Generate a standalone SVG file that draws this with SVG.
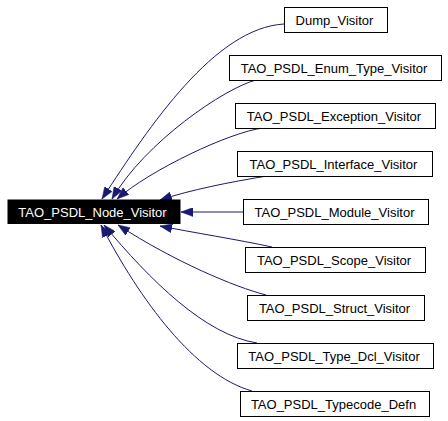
<svg xmlns="http://www.w3.org/2000/svg" width="448" height="421" viewBox="0 0 448 421">
<style>
  .box { fill: #ffffff; stroke: #000000; stroke-width: 1; }
  .root { fill: #000000; stroke: #000000; stroke-width: 1; }
  .lbl { font-family: "Liberation Sans", Arial, Helvetica, sans-serif; font-size: 13px; fill: #000000; text-anchor: middle; }
  .rootlbl { font-family: "Liberation Sans", Arial, Helvetica, sans-serif; font-size: 13px; fill: #ffffff; text-anchor: middle; }
  .edge { fill: none; stroke: #191970; stroke-width: 1; marker-end: url(#arrow); }
</style>
<defs>
  <marker id="arrow" markerUnits="userSpaceOnUse" viewBox="0 0 12 9" refX="12" refY="4.5" markerWidth="12" markerHeight="9" orient="auto">
    <path d="M0,0 L12,4.5 L0,9 Z" fill="#191970" stroke="#191970" stroke-width="0.5"/>
  </marker>
</defs>
<rect width="448" height="421" fill="#ffffff"/>
<g id="connectors">
  <path class="edge" d="M284,24 C215,28 150,125 102,199"/>
  <path class="edge" d="M256,80 C225,88 145,142 112,199"/>
  <path class="edge" d="M263,128 C230,132 150,170 117,199"/>
  <path class="edge" d="M267,176 C230,182 190,190 160,200"/>
  <path class="edge" d="M243,212 L181,212"/>
  <path class="edge" d="M272,247 C240,240 190,232 160,226"/>
  <path class="edge" d="M266,295 C235,287 175,262 118,225"/>
  <path class="edge" d="M257,343 C205,335 150,280 104,225"/>
  <path class="edge" d="M252,391 C195,375 140,300 101,225"/>
</g>
<g id="node-root">
  <rect class="root" x="8" y="200" width="172" height="23.5"/>
  <text class="rootlbl" x="92.5" y="216.5">TAO_PSDL_Node_Visitor</text>
</g>
<g id="node-dump">
  <rect class="box" x="284.5" y="7.5" width="103" height="25"/>
  <text class="lbl" x="334.5" y="24.5">Dump_Visitor</text>
</g>
<g id="node-enum">
  <rect class="box" x="229.5" y="55.5" width="212" height="25"/>
  <text class="lbl" x="334" y="72.5">TAO_PSDL_Enum_Type_Visitor</text>
</g>
<g id="node-exception">
  <rect class="box" x="235.5" y="103.5" width="200" height="25"/>
  <text class="lbl" x="334" y="120.5">TAO_PSDL_Exception_Visitor</text>
</g>
<g id="node-interface">
  <rect class="box" x="237.5" y="151.5" width="195" height="25"/>
  <text class="lbl" x="333.5" y="168.5">TAO_PSDL_Interface_Visitor</text>
</g>
<g id="node-module">
  <rect class="box" x="243.5" y="199.5" width="185" height="25"/>
  <text class="lbl" x="334.5" y="216.5">TAO_PSDL_Module_Visitor</text>
</g>
<g id="node-scope">
  <rect class="box" x="245.5" y="247.5" width="180" height="25"/>
  <text class="lbl" x="334" y="264.5">TAO_PSDL_Scope_Visitor</text>
</g>
<g id="node-struct">
  <rect class="box" x="247.5" y="295.5" width="177" height="25"/>
  <text class="lbl" x="334.5" y="312.5">TAO_PSDL_Struct_Visitor</text>
</g>
<g id="node-typedcl">
  <rect class="box" x="237.5" y="343.5" width="196" height="25"/>
  <text class="lbl" x="334" y="360.5">TAO_PSDL_Type_Dcl_Visitor</text>
</g>
<g id="node-typecode">
  <rect class="box" x="240.5" y="391.5" width="189" height="25"/>
  <text class="lbl" x="333.5" y="408.5">TAO_PSDL_Typecode_Defn</text>
</g>
</svg>
